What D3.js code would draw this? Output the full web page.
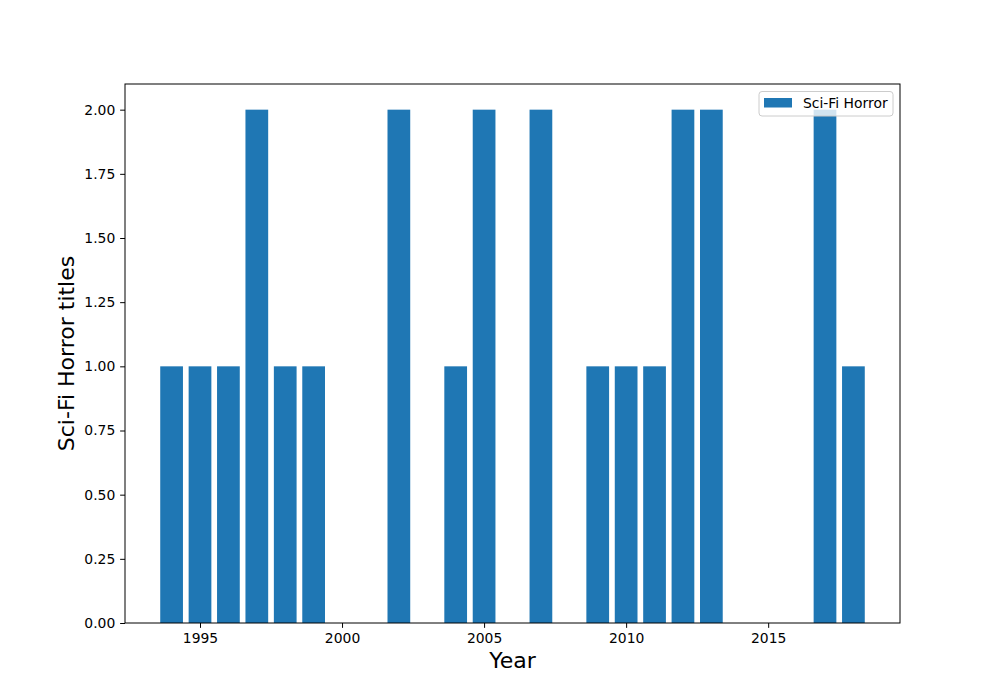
<!DOCTYPE html>
<html><head><meta charset="utf-8">
<script src="https://cdn.jsdelivr.net/npm/d3@7"></script>
<style>body{margin:0;background:#fff}svg{display:block;font-family:"DejaVu Sans",sans-serif}</style>
</head><body>
<script>
const years = [1994,1995,1996,1997,1998,1999,2002,2004,2005,2007,2009,2010,2011,2012,2013,2017,2018];
const counts = [1,1,1,2,1,1,2,1,2,2,1,1,1,2,2,2,1];
const xTicks = [1995,2000,2005,2010,2015];
const yTicks = [0,0.25,0.5,0.75,1.0,1.25,1.5,1.75,2.0];
const seriesName = "Sci-Fi Horror";
const xLabel = "Year";
const yLabel = "Sci-Fi Horror titles";

const W=1000,H=700, L=125,R=900,T=84,B=623;
const color="#1f77b4";
const svg=d3.select("body").append("svg").attr("width",W).attr("height",H);
const barW=0.8;
const xmin=d3.min(years)-barW/2, xmax=d3.max(years)+barW/2, pad=(xmax-xmin)*0.05;
const x=d3.scaleLinear().domain([xmin-pad,xmax+pad]).range([L,R]);
const ymax=d3.max(counts);
const y=d3.scaleLinear().domain([0,ymax*1.05]).range([B,T]);

svg.append("g").selectAll("rect").data(years).join("rect")
  .attr("x",(d)=>x(d-barW/2)).attr("width",(d)=>x(d+barW/2)-x(d-barW/2))
  .attr("y",(d,i)=>y(counts[i])).attr("height",(d,i)=>y(0)-y(counts[i]))
  .attr("fill",color);

const xa=svg.append("g").attr("transform",`translate(0,${B})`)
  .call(d3.axisBottom(x).tickValues(xTicks).tickFormat(d3.format("d")).tickSize(4.86).tickPadding(4.86));
const ya=svg.append("g").attr("transform",`translate(${L},0)`)
  .call(d3.axisLeft(y).tickValues(yTicks).tickFormat(d3.format(".2f")).tickSize(4.86).tickPadding(4.86));
[xa,ya].forEach(a=>{a.select(".domain").remove();a.selectAll("text").attr("font-size","13.9px").attr("fill","#000").attr("font-family","DejaVu Sans");a.selectAll("line").attr("stroke","#000").attr("stroke-width",1);});

svg.append("rect").attr("x",L).attr("y",T).attr("width",R-L).attr("height",B-T)
  .attr("fill","none").attr("stroke","#000").attr("stroke-width",1);

svg.append("text").attr("x",(L+R)/2).attr("y",668).attr("text-anchor","middle")
  .attr("font-size","22px").text(xLabel);
svg.append("text").attr("transform",`translate(74,${(T+B)/2}) rotate(-90)`).attr("text-anchor","middle")
  .attr("font-size","22px").text(yLabel);

const lg=svg.append("g");
lg.append("rect").attr("x",759).attr("y",91.5).attr("width",134).attr("height",24.5).attr("rx",3)
  .attr("fill","#fff").attr("fill-opacity",0.8).attr("stroke","#cccccc").attr("stroke-width",1);
lg.append("rect").attr("x",764).attr("y",98).attr("width",28).attr("height",9.5).attr("fill",color);
lg.append("text").attr("x",803).attr("y",108).attr("font-size","13.9px").text(seriesName);
</script>
</body></html>
